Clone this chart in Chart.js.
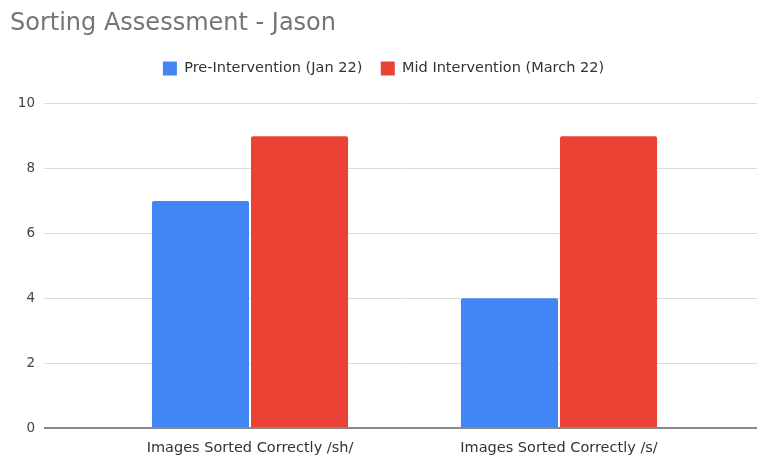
<!DOCTYPE html>
<html>
<head>
<meta charset="utf-8">
<script src="https://cdn.jsdelivr.net/npm/chart.js@4.4.0/dist/chart.umd.min.js"></script>
<style>
  html, body { margin: 0; padding: 0; background: #fff; }
</style>
</head>
<body>
<canvas id="myChart" width="758" height="457"></canvas>
<script>
// chart data
var categories = ['Images Sorted Correctly /sh/', 'Images Sorted Correctly /s/'];
var preValues = [7, 4];   // Pre-Intervention (Jan 22)
var midValues = [9, 9];   // Mid Intervention (March 22)
var yTicks = [0, 2, 4, 6, 8, 10];

var FONT = 'DejaVu Sans';

function toPoints(arr) {
    return arr.map(function(v, i) { return { x: i, y: v }; });
}

// leave some room under the legend
var legendGap = {
    id: 'legendGap',
    beforeInit: function(chart) {
        var fit = chart.legend.fit;
        chart.legend.fit = function() {
            fit.bind(chart.legend)();
            this.height += 18;
        };
    }
};

const ctx = document.getElementById('myChart');
const myChart = new Chart(ctx, {
    type: 'bar',
    data: {
        datasets: [{
            label: 'Pre-Intervention (Jan 22)',
            data: toPoints(preValues),
            backgroundColor: '#4285F4',
            borderRadius: 2,
            borderSkipped: 'bottom'
        }, {
            label: 'Mid Intervention (March 22)',
            data: toPoints(midValues),
            backgroundColor: '#EA4335',
            borderRadius: 2,
            borderSkipped: 'bottom'
        }]
    },
    options: {
        responsive: false,
        animation: false,
        categoryPercentage: 0.641,
        barPercentage: 0.98,
        layout: { padding: { left: 10, right: 1, top: 0, bottom: 0 } },
        plugins: {
            title: {
                display: true,
                text: 'Sorting Assessment - Jason',
                align: 'start',
                color: '#757575',
                font: { family: FONT, size: 24, weight: 'normal' },
                padding: { top: 9, bottom: 5 }
            },
            legend: {
                display: true,
                labels: {
                    boxWidth: 14,
                    boxHeight: 14,
                    padding: 18.5,
                    color: '#333',
                    font: { family: FONT, size: 14.5 }
                }
            },
            tooltip: { enabled: false }
        },
        scales: {
            x: {
                type: 'linear',
                offset: false,
                min: -2 / 3,
                max: 1.6408,
                grid: { display: false, drawTicks: false },
                border: { display: false },
                afterBuildTicks: function(scale) {
                    scale.ticks = categories.map(function(c, i) { return { value: i }; });
                },
                afterFit: function(scale) { scale.height = 29; },
                ticks: {
                    autoSkip: false,
                    maxRotation: 0,
                    padding: 12,
                    color: '#333',
                    font: { family: FONT, size: 14.5 },
                    callback: function(value) { return categories[value]; }
                }
            },
            y: {
                min: 0,
                max: 10,
                afterBuildTicks: function(scale) {
                    scale.ticks = yTicks.map(function(v) { return { value: v }; });
                },
                afterFit: function(scale) { scale.width = 34; },
                border: { display: false },
                grid: {
                    drawTicks: false,
                    color: function(c) { return c.tick && c.tick.value === 0 ? '#888' : '#dcdcdc'; },
                    lineWidth: function(c) { return c.tick && c.tick.value === 0 ? 2 : 1; }
                },
                ticks: {
                    padding: 9,
                    color: '#444',
                    font: { family: FONT, size: 13.5 }
                }
            }
        }
    },
    plugins: [legendGap]
});
</script>
</body>
</html>
